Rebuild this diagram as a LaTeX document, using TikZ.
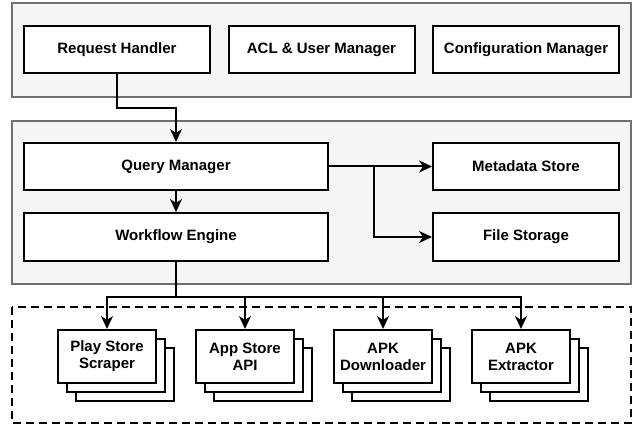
\documentclass[tikz,border=0pt]{standalone}
\usepackage{fontspec}
\setmainfont{Liberation Sans}
\usetikzlibrary{arrows.meta, calc, shadows}

\definecolor{groupfill}{HTML}{F5F5F5}
\definecolor{groupline}{HTML}{707070}

\tikzset{
    flow/.style={-{Stealth[length=13pt, width=12pt, inset=4pt]}, line width=2pt},
    group/.style={draw=groupline, fill=groupfill, line width=2pt},
    box/.style={draw, line width=2pt, fill=white, minimum width=186pt, minimum height=47pt,
        inner sep=0pt, align=center, font=\bfseries\fontsize{15}{17}\selectfont},
    worker/.style={box, minimum width=98pt, minimum height=53pt,
        double copy shadow={shadow xshift=9pt, shadow yshift=-9pt, draw, fill=white, line width=2pt}},
}

\begin{document}
\begin{tikzpicture}[x=1pt, y=-1pt]
    \useasboundingbox (0,0) rectangle (634,427);

    % --- Groups ---
    \draw[group] (12,3) rectangle (631,97);
    \draw[group] (12,121) rectangle (631,284);
    \draw[line width=2pt, dash pattern=on 8pt off 5pt] (12,307) rectangle (631,423);

    % --- Nodes ---

    % 1. Front layer (top row)
    \node[box] (rh) at (117,49.5) {Request Handler};
    \node[box] (acl) at (321.5,49.5) {ACL \& User Manager};
    \node[box] (cfg) at (526,49.5) {Configuration Manager};

    % 2. Core (middle)
    \node[box, minimum width=304pt] (qm) at (176,166.5) {Query Manager};
    \node[box, minimum width=304pt, minimum height=48pt] (wf) at (176,237) {Workflow Engine};
    \node[box] (meta) at (526,166.5) {Metadata Store};
    \node[box, minimum height=48pt] (fs) at (526,237) {File Storage};

    % 3. Workers (bottom, stacked)
    \node[worker] (ps) at (107,356.5) {Play Store\\Scraper};
    \node[worker] (as) at (245,356.5) {App Store\\API};
    \node[worker] (dl) at (383,356.5) {APK\\Downloader};
    \node[worker] (ex) at (521,356.5) {APK\\Extractor};

    % --- Arrows ---

    % Request into the query manager
    \draw[flow] (rh.south) |- ($(rh.south)!0.5!(qm.north)$) -| (qm.north);
    \draw[flow] (qm) -- (wf);

    % Storage
    \coordinate (split) at ($(qm.east)!0.44!(meta.west)$);
    \draw[flow] (qm) -- (meta);
    \draw[flow] (split) |- (fs.west);

    % Fan out to the workers
    \coordinate (bus) at ([yshift=-35pt]wf.south);
    \foreach \w in {ps, as, dl, ex}
        \draw[flow] (wf.south) -- (bus) -| (\w.north);

\end{tikzpicture}
\end{document}
